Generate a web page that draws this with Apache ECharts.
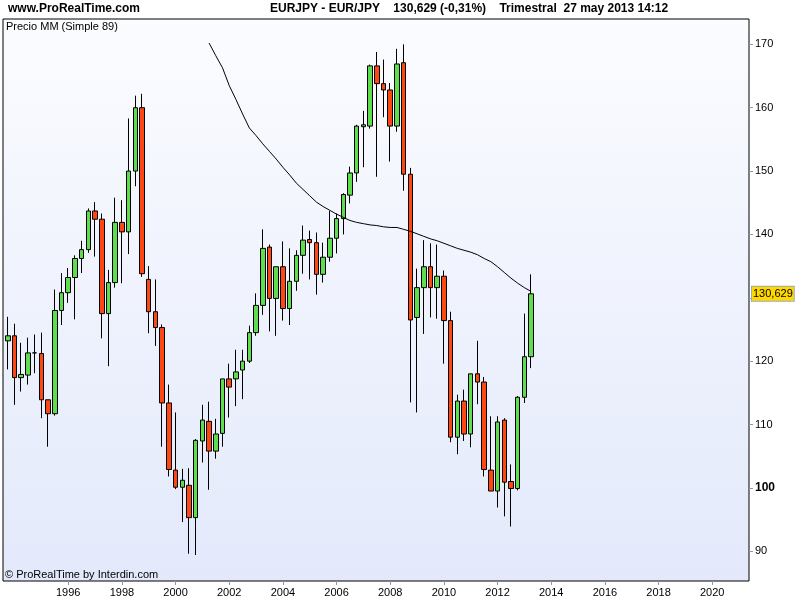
<!DOCTYPE html>
<html><head><meta charset="utf-8">
<script src="https://cdn.jsdelivr.net/npm/echarts@6/dist/echarts.min.js"></script>
<style>html,body{margin:0;padding:0;background:#fff}#c{width:800px;height:600px}</style>
</head><body><div id="c"></div>
<script>
const firstQuarter = 1993.75; // Q4 1993
const opens  = [123.2,124.0,117.4,117.8,121.3,121.2,113.9,111.7,128.0,130.8,133.2,136.2,137.6,143.7,142.4,127.5,132.4,141.9,140.4,150.0,160.0,132.9,127.8,125.3,113.4,102.8,100.1,100.4,95.3,107.4,110.5,105.8,108.6,117.2,117.2,118.6,120.0,124.5,128.8,138.0,129.9,134.9,128.3,132.6,136.7,139.2,138.7,133.7,136.4,139.4,142.5,146.2,149.7,157.0,157.1,166.6,163.8,162.8,157.1,167.1,149.5,126.9,131.6,134.9,131.6,133.4,126.4,108.0,113.7,108.5,118.0,116.7,102.8,99.5,110.7,101.0,99.9,114.3,120.7];
const closes = [124.0,117.4,117.9,121.3,121.3,113.9,111.7,128.0,130.8,133.2,136.2,137.6,143.7,142.4,127.5,132.4,141.9,140.4,150.0,160.0,133.8,127.8,125.3,113.4,102.9,100.1,101.2,95.3,107.5,110.7,105.8,108.5,117.2,115.9,118.3,120.0,124.5,128.8,137.8,129.9,134.9,128.3,132.6,136.7,139.1,138.7,133.7,136.4,139.4,142.5,146.3,149.7,157.1,157.3,166.6,163.8,162.8,157.1,166.9,149.5,126.5,131.6,134.9,131.6,133.4,126.4,108.0,113.7,108.5,118.0,116.7,102.9,99.5,110.4,100.9,99.9,114.3,120.7,130.629];
const lows   = [118.7,113.1,115.2,116.3,118.1,111.0,106.5,111.4,125.7,129.2,126.6,133.9,137.1,136.5,123.6,119.2,131.6,132.3,136.9,147.6,133.3,124.4,122.4,106.5,101.8,99.8,94.6,89.6,89.4,104.0,99.7,104.6,106.5,111.1,112.9,114.0,119.7,124.0,127.3,124.7,124.0,126.4,125.7,131.1,133.8,132.9,130.5,132.4,135.7,137.0,140.0,144.9,148.3,150.6,156.7,149.1,158.5,151.5,156.2,146.9,113.5,111.9,124.3,126.9,126.7,119.6,107.2,105.3,107.4,106.4,113.2,101.8,99.5,96.9,95.5,93.9,99.6,113.4,118.9];
const highs  = [127.0,125.9,122.9,123.7,124.2,124.5,113.9,131.3,133.9,134.7,136.7,139.0,144.1,145.1,143.3,134.4,145.8,145.4,158.3,161.9,162.2,135.0,132.9,125.8,116.3,111.9,103.0,103.1,107.7,113.1,113.6,110.9,117.2,119.6,121.8,121.8,125.6,130.7,140.8,138.4,134.9,138.9,137.8,137.5,141.4,140.6,140.3,138.7,143.7,143.3,146.5,150.7,157.3,159.5,166.8,168.8,167.6,163.9,169.3,170.0,150.5,134.6,139.1,138.6,138.4,134.3,127.8,114.7,115.5,118.0,123.2,117.5,111.3,111.3,111.0,103.7,114.5,127.5,133.7];
const ma89 = [null,null,null,null,null,null,null,null,null,null,null,null,null,null,null,null,null,null,null,null,null,null,null,null,null,null,null,null,null,null,
170.2,168.2,166.3,163.5,161.3,159.0,156.8,155.6,154.3,153.1,151.9,150.6,149.4,148.1,147.1,146.1,145.1,144.4,143.8,143.2,142.7,142.2,141.9,141.7,141.5,141.4,141.2,141.1,141.1,140.8,140.5,140.1,139.7,139.3,139.0,138.6,138.2,137.8,137.5,137.2,136.8,136.2,135.7,134.9,134.0,133.1,132.3,131.6,131.0];
const yTicks = [90,100,110,120,130,140,150,160,170];
const xTicks = [1996,1998,2000,2002,2004,2006,2008,2010,2012,2014,2016,2018,2020];
const lastPrice = 130.629;

const xs = opens.map((_, i) => firstQuarter + i * 0.25);
const candles = opens.map((o, i) => [xs[i], o, closes[i], lows[i], highs[i]]);
const maData = ma89.map((v, i) => [xs[i], v]);

const chart = echarts.init(document.getElementById('c'), null, {renderer:'canvas'});
const F = 'Liberation Sans, Arial, sans-serif';
chart.setOption({
  animation:false,
  backgroundColor:'#fff',
  textStyle:{fontFamily:F},
  graphic:[
    {type:'text', left:8, top:3, style:{text:'www.ProRealTime.com', font:'bold 12px '+F, fill:'#000'}},
    {type:'text', left:270, top:3, style:{text:'EURJPY - EUR/JPY    130,629 (-0,31%)    Trimestral  27 may 2013 14:12', font:'bold 12px '+F, fill:'#000'}},
    {type:'text', left:6, top:21, z:10, style:{text:'Precio MM (Simple 89)', font:'11px '+F, fill:'#000'}},
    {type:'text', left:5, top:569, z:10, style:{text:'© ProRealTime by Interdin.com', font:'11px '+F, fill:'#000'}}
  ],
  grid:{left:3, right:51, top:19, bottom:19, show:true, borderColor:'#000', borderWidth:1,
    backgroundColor:new echarts.graphic.LinearGradient(0,0,0,1,[{offset:0,color:'#fbfcff'},{offset:1,color:'#e3e9fb'}])},
  xAxis:{type:'value', min:1993.57, max:2021.37,
    axisLine:{show:false}, splitLine:{show:false},
    axisTick:{show:true, customValues:xTicks, length:4, lineStyle:{color:'#8899aa'}},
    axisLabel:{customValues:xTicks, color:'#000', fontSize:11, margin:6, fontFamily:F, formatter:v=>String(v)}},
  yAxis:{type:'value', position:'right', min:85.3, max:174, scale:true,
    axisLine:{show:false}, splitLine:{show:false},
    axisTick:{show:true, customValues:yTicks, length:4, lineStyle:{color:'#8899aa'}},
    axisLabel:{customValues:yTicks, color:'#000', fontSize:11, margin:6, fontFamily:F,
      formatter:v=>v===100?'{b|100}':String(v), rich:{b:{fontWeight:'bold', fontSize:12, fontFamily:F}}}},
  series:[
    {type:'candlestick', data:candles, encode:{x:0,y:[1,2,3,4]}, barWidth:5,
      itemStyle:{color:'#5ede4e', color0:'#ff4713', borderColor:'#000', borderColor0:'#000', borderColorDoji:'#000', borderWidth:1}},
    {type:'line', data:maData, showSymbol:false, connectNulls:false, lineStyle:{color:'#000', width:1}, z:3,
      markLine:{symbol:'none', silent:true, data:[{yAxis:lastPrice}], lineStyle:{color:'rgba(0,0,0,0)', width:0},
        label:{show:true, position:'end', formatter:'130,629', backgroundColor:'#ffd800', borderColor:'#99aabb', borderWidth:1, padding:[2,1,1,1], color:'#000', fontSize:11, fontFamily:F, distance:3}}}
  ]
});
</script></body></html>
